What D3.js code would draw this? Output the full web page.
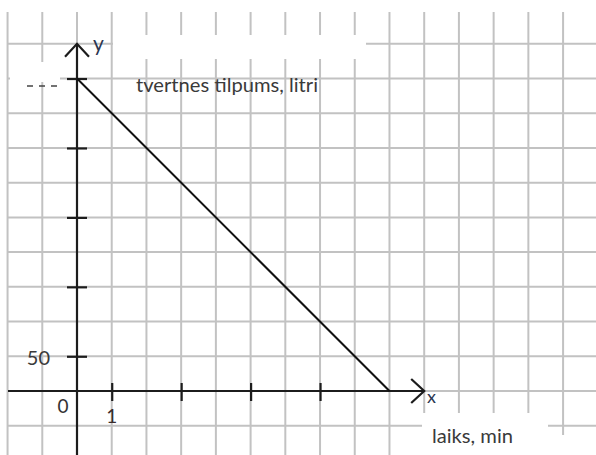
<!DOCTYPE html>
<html>
<head>
<meta charset="utf-8">
<script src="https://cdn.jsdelivr.net/npm/d3@7"></script>
<style>
  html, body { margin: 0; padding: 0; background: #fff; }
  svg { display: block; }
</style>
</head>
<body>
<svg id="chart" width="596" height="455"></svg>
<script>
// ---- data ----
const times = [0, 9];              // minutes
const volumes = [450, 0];          // litres
const xTickValues = [1, 3, 5, 7];
const yTickValues = [50, 150, 250, 350, 450];
const xGridValues = d3.range(-2, 15);          // minutes
const yGridValues = d3.range(-50, 501, 50);    // litres
const xLabel = "laiks, min";
const yLabel = "tvertnes tilpums, litri";
const xTickLabelValue = 1;
const yTickLabelValue = 50;

// ---- layout ----
const W = 596, H = 455;
const unit = 34.72;
const x0 = 77, y0 = 391;
const svg = d3.select("#chart");

const x = d3.scaleLinear().domain([0, 1]).range([x0, x0 + unit]);
const y = d3.scaleLinear().domain([0, 50]).range([y0, y0 - unit]);

const gridColor = "#c2c2c2";
const axisColor = "#1c1c1c";
const textColor = "#3a3a3a";
const font = "Lato, 'Open Sans', sans-serif";

// grid
const grid = svg.append("g");
grid.selectAll("line.v").data(xGridValues).join("line")
  .attr("x1", d => x(d)).attr("x2", d => x(d))
  .attr("y1", 12).attr("y2", H)
  .attr("stroke", gridColor).attr("stroke-width", 2);
grid.selectAll("line.h").data(yGridValues).join("line")
  .attr("x1", 8).attr("x2", W)
  .attr("y1", d => y(d)).attr("y2", d => y(d))
  .attr("stroke", gridColor).attr("stroke-width", 2);

// white patches (erased areas in the original)
const patches = [
  [113, 35, 253, 24],
  [10, 62, 50, 20],
  [422, 413, 126, 42],
  [540, 435, 30, 20]
];
svg.append("g").selectAll("rect").data(patches).join("rect")
  .attr("x", d => d[0]).attr("y", d => d[1])
  .attr("width", d => d[2]).attr("height", d => d[3])
  .attr("fill", "#fff");

// axes lines
const ax = svg.append("g").attr("stroke", axisColor).attr("stroke-width", 2.2).attr("fill", "none");
const xEnd = x(10), yEnd = y(500);
ax.append("line").attr("x1", 8).attr("x2", xEnd).attr("y1", y0).attr("y2", y0);
ax.append("line").attr("x1", x0).attr("x2", x0).attr("y1", H).attr("y2", yEnd);
// arrows
ax.append("path").attr("d", `M${xEnd - 13},${y0 - 12}L${xEnd},${y0}L${xEnd - 13},${y0 + 12}`);
ax.append("path").attr("d", `M${x0 - 12},${yEnd + 13}L${x0},${yEnd}L${x0 + 12},${yEnd + 13}`);

// ticks via d3 axes
const xAxis = d3.axisBottom(x).tickValues(xTickValues).tickSize(18).tickFormat("");
const gx = svg.append("g").attr("transform", `translate(0,${y0 - 8})`).call(xAxis);
gx.select(".domain").remove();
gx.selectAll(".tick line").attr("stroke", axisColor).attr("stroke-width", 2.2);

const yAxis = d3.axisLeft(y).tickValues(yTickValues).tickSize(20).tickFormat("");
const gy = svg.append("g").attr("transform", `translate(${x0 + 10},0)`).call(yAxis);
gy.select(".domain").remove();
gy.selectAll(".tick line").attr("stroke", axisColor).attr("stroke-width", 2.2);

// data line
const line = d3.line().x(d => x(d[0])).y(d => y(d[1]));
svg.append("path")
  .datum(times.map((t, i) => [t, volumes[i]]))
  .attr("d", line)
  .attr("fill", "none").attr("stroke", "#111").attr("stroke-width", 2);

// dashes on the left
svg.append("line").attr("x1", 27).attr("x2", 58).attr("y1", 86).attr("y2", 86)
  .attr("stroke", "#444").attr("stroke-width", 1.3).attr("stroke-dasharray", "6,6");

// texts
const t = svg.append("g").attr("font-family", font).attr("fill", textColor);
t.append("text").attr("x", 136).attr("y", 92).attr("font-size", 20)
  .attr("textLength", 182).attr("lengthAdjust", "spacingAndGlyphs").text(yLabel);
t.append("text").attr("x", 432).attr("y", 443).attr("font-size", 20)
  .attr("textLength", 81).attr("lengthAdjust", "spacingAndGlyphs").text(xLabel);
t.append("text").attr("x", 93).attr("y", 51).attr("font-size", 21).attr("fill", "#2b3650").text("y");
t.append("text").attr("x", 427).attr("y", 403).attr("font-size", 18).attr("fill", "#2b3650").text("x");
t.append("text").attr("x", 50).attr("y", y(yTickLabelValue) + 9).attr("font-size", 20)
  .attr("text-anchor", "end").text(String(yTickLabelValue));
t.append("text").attr("x", 63).attr("y", 413).attr("font-size", 19)
  .attr("text-anchor", "middle").attr("fill", "#333").text("0");
t.append("text").attr("x", x(xTickLabelValue)).attr("y", 423).attr("font-size", 19)
  .attr("text-anchor", "middle").attr("fill", "#3a2c2c").text(String(xTickLabelValue));
</script>
</body>
</html>
